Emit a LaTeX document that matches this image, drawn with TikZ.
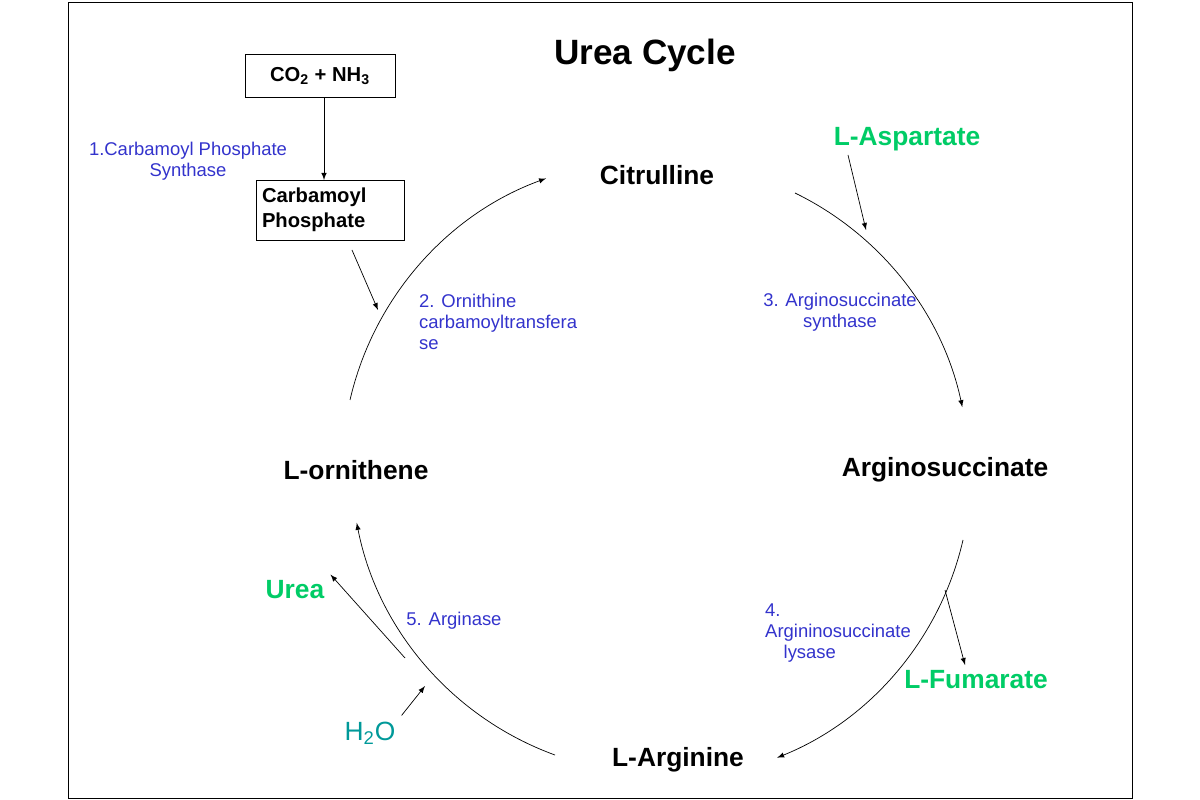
\documentclass[tikz,border=0pt]{standalone}
\usepackage{fontspec}
\setmainfont{Liberation Sans}
\usetikzlibrary{positioning}
\definecolor{enzblue}{RGB}{51,51,204}
\definecolor{subgreen}{RGB}{0,204,102}
\definecolor{watercol}{RGB}{0,153,153}
\begin{document}
\begin{tikzpicture}[
		x=0.02cm, y=-0.02cm
		,met/.style={font=\bfseries\fontsize{15}{18}\selectfont}
		,side/.style={text=subgreen, font=\bfseries\fontsize{15}{18}\selectfont}
		,enz/.style={text=enzblue, font=\fontsize{10.5}{12}\selectfont, align=left}
		,box/.style={draw, font=\bfseries\fontsize{11.5}{14}\selectfont, align=left}
		,rx/.style={-latex}
	]
		\useasboundingbox (0,0) rectangle (1200,800);
		\draw (68,2) rectangle (1132,798);
		\node[font=\bfseries\fontsize{20}{22}\selectfont] (title) at (645,55) {Urea Cycle};

		\node[box, minimum width=150*0.02cm, minimum height=43*0.02cm] (gas) at (320,76) {CO\textsubscript{2} + NH\textsubscript{3}};
		\node[box, text width=136*0.02cm, minimum height=60*0.02cm] (cp) at (330,210) {Carbamoyl\\Phosphate};
		\node[enz, align=center] (e1) at (188,161) {1.Carbamoyl Phosphate\\Synthase};

		\node[met] (cit) at (657,175) {Citrulline};
		\node[met] (asu) at (945,470) {Arginosuccinate};
		\node[met] (arg) at (678,760) {L-Arginine};
		\node[met] (orn) at (356,470) {L-ornithene};

		\node[side] (asp) at (907,139) {L-Aspartate};
		\node[side] (fum) at (976,680) {L-Fumarate};
		\node[side] (urea) at (295,590) {Urea};
		\node[text=watercol, font=\fontsize{15}{18}\selectfont] (water) at (370,733) {H\textsubscript{2}O};

		\node[enz, anchor=west] (e2) at (413,322) {2. Ornithine\\carbamoyltransfera\\se};
		\node[enz, align=center] (e3) at (840,312) {3. Arginosuccinate\\synthase};
		\node[enz, anchor=west] (e4) at (759,633) {4.\\Argininosuccinate\\\hspace*{1em}lysase};
		\node[enz] (e5) at (454,621) {5. Arginase};

		% cycle, circle centre (658,470)
		\coordinate (c1) at (795,193);
		\coordinate (c2) at (963,540);
		\coordinate (c3) at (555,755);
		\coordinate (c4) at (350,400);
		\draw[rx] (c1) arc[start angle=-64, end angle=-12, radius=310];
		\draw[rx] (c2) arc[start angle=13, end angle=68, radius=310];
		\draw[rx] (c3) arc[start angle=110, end angle=169, radius=310];
		\draw[rx] (c4) arc[start angle=193, end angle=250, radius=310];

		\coordinate (g1) at (324,98); \coordinate (g2) at (324,180);
		\draw[rx] (g1) -- (g2);
		\coordinate (a1) at (352,250); \coordinate (a2) at (378,310);
		\draw[rx] (a1) -- (a2);
		\coordinate (b1) at (848,155); \coordinate (b2) at (866,230);
		\draw[rx] (b1) -- (b2);
		\coordinate (f1) at (945,590); \coordinate (f2) at (965,665);
		\draw[rx] (f1) -- (f2);
		\coordinate (u1) at (405,658);
		\draw[rx] (u1) -- (urea.north east);
		\coordinate (w1) at (425,686);
		\draw[rx] (water.north east) -- (w1);
	\end{tikzpicture}
\end{document}
